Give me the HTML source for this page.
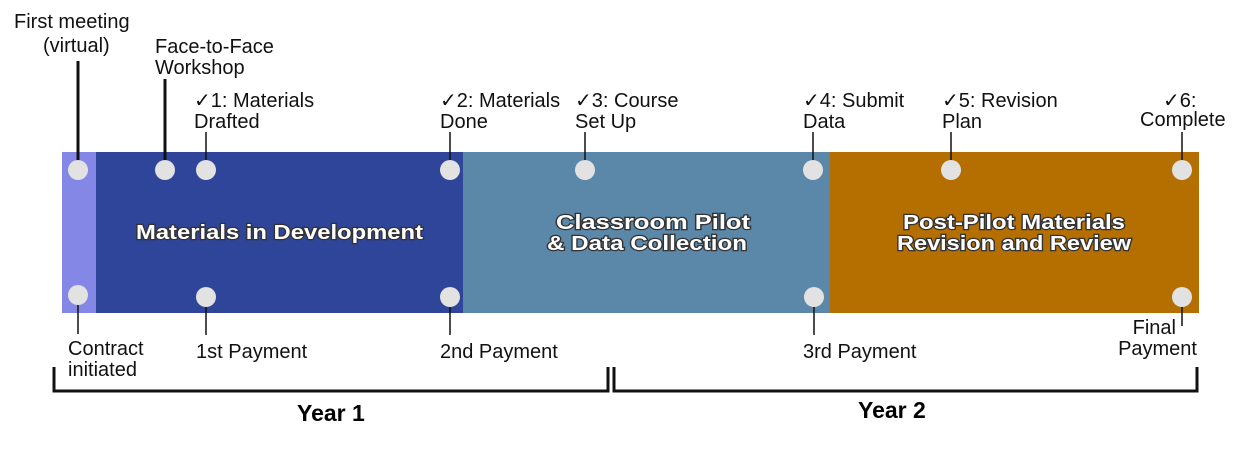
<!DOCTYPE html>
<html><head><meta charset="utf-8"><style>
html,body{margin:0;padding:0;background:#fff;}
svg{display:block;}
text{font-family:"Liberation Sans",Arial,sans-serif;}
.l{font-size:20px;fill:#111;}
.b{font-size:20px;font-weight:bold;fill:#fff;stroke:#333;stroke-width:2.4px;paint-order:stroke;}
.y{font-size:23px;font-weight:bold;fill:#000;}
</style></head><body>
<svg width="1238" height="460" viewBox="0 0 1238 460" xmlns="http://www.w3.org/2000/svg">
<rect x="62" y="152" width="35" height="161" fill="#8487e6"/>
<rect x="96" y="152" width="368" height="161" fill="#2f4599"/>
<rect x="463" y="152" width="368" height="161" fill="#5b87a8"/>
<rect x="830" y="152" width="369" height="161" fill="#b56e00"/>
<g stroke="#111">
<line x1="78" y1="61" x2="78" y2="165" stroke-width="3"/>
<line x1="165" y1="79" x2="165" y2="165" stroke-width="3"/>
<line x1="206" y1="132" x2="206" y2="165" stroke-width="1.5"/>
<line x1="450" y1="132" x2="450" y2="165" stroke-width="1.5"/>
<line x1="585" y1="132" x2="585" y2="165" stroke-width="1.5"/>
<line x1="813" y1="132" x2="813" y2="165" stroke-width="1.5"/>
<line x1="951" y1="132" x2="951" y2="165" stroke-width="1.5"/>
<line x1="1182" y1="132" x2="1182" y2="165" stroke-width="1.5"/>
<line x1="78" y1="300" x2="78" y2="334" stroke-width="1.5"/>
<line x1="206" y1="300" x2="206" y2="335" stroke-width="1.5"/>
<line x1="450" y1="300" x2="450" y2="335" stroke-width="1.5"/>
<line x1="814" y1="300" x2="814" y2="335" stroke-width="1.5"/>
<line x1="1182" y1="300" x2="1182" y2="326" stroke-width="1.5"/>
</g>
<g fill="#e2e2e2">
<circle cx="78" cy="170" r="10"/><circle cx="165" cy="170" r="10"/><circle cx="206" cy="170" r="10"/>
<circle cx="450" cy="170" r="10"/><circle cx="585" cy="170" r="10"/><circle cx="813" cy="170" r="10"/>
<circle cx="951" cy="170" r="10"/><circle cx="1182" cy="170" r="10"/>
<circle cx="78" cy="295" r="10"/><circle cx="206" cy="297" r="10"/><circle cx="450" cy="297" r="10"/>
<circle cx="814" cy="297" r="10"/><circle cx="1182" cy="297" r="10"/>
</g>
<text class="b" x="136" y="239" textLength="287" lengthAdjust="spacingAndGlyphs">Materials in Development</text>
<text class="b" x="556" y="229" textLength="194" lengthAdjust="spacingAndGlyphs">Classroom Pilot</text>
<text class="b" x="547" y="250" textLength="200" lengthAdjust="spacingAndGlyphs">&amp; Data Collection</text>
<text class="b" x="903" y="229" textLength="222" lengthAdjust="spacingAndGlyphs">Post-Pilot Materials</text>
<text class="b" x="897" y="250" textLength="234" lengthAdjust="spacingAndGlyphs">Revision and Review</text>
<text class="l" x="14" y="28">First meeting</text>
<text class="l" x="43" y="52">(virtual)</text>
<text class="l" x="155" y="53">Face-to-Face</text>
<text class="l" x="155" y="74">Workshop</text>
<text class="l" x="194" y="107">✓1: Materials</text>
<text class="l" x="194" y="128">Drafted</text>
<text class="l" x="440" y="107">✓2: Materials</text>
<text class="l" x="440" y="128">Done</text>
<text class="l" x="575" y="107">✓3: Course</text>
<text class="l" x="575" y="128">Set Up</text>
<text class="l" x="803" y="107">✓4: Submit</text>
<text class="l" x="803" y="128">Data</text>
<text class="l" x="942" y="107">✓5: Revision</text>
<text class="l" x="942" y="128">Plan</text>
<text class="l" x="1163" y="107">✓6:</text>
<text class="l" x="1140" y="126">Complete</text>
<text class="l" x="68" y="355">Contract</text>
<text class="l" x="68" y="376">initiated</text>
<text class="l" x="196" y="358">1st Payment</text>
<text class="l" x="440" y="358">2nd Payment</text>
<text class="l" x="803" y="358">3rd Payment</text>
<text class="l" x="1176" y="334" text-anchor="end">Final</text>
<text class="l" x="1197" y="355" text-anchor="end">Payment</text>
<g fill="none" stroke="#111" stroke-width="3">
<polyline points="54,367 54,391 608,391 608,367"/>
<polyline points="614,367 614,391 1197,391 1197,367"/>
</g>
<text class="y" x="297" y="421">Year 1</text>
<text class="y" x="858" y="418">Year 2</text>
</svg>
</body></html>
